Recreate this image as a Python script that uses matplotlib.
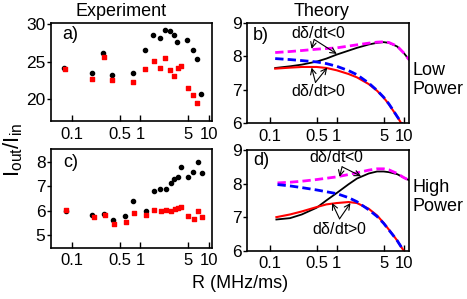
import matplotlib
matplotlib.use("Agg")
import matplotlib.pyplot as plt

plt.rcParams['font.family'] = ['Liberation Sans', 'DejaVu Sans']
plt.rcParams['mathtext.fontset'] = 'custom'
plt.rcParams['mathtext.rm'] = 'Liberation Sans'
plt.rcParams['mathtext.it'] = 'Liberation Sans'

# experiment, low power (panel a)
a_black_x = [0.078, 0.20, 0.29, 0.39, 0.79, 1.15, 1.53, 1.91, 2.28, 2.68, 3.06, 3.45, 4.8, 5.78, 6.67, 7.69]
a_black_y = [24.2, 23.4, 26.2, 23.2, 23.4, 26.5, 28.6, 28.2, 29.3, 29.1, 28.6, 27.6, 27.9, 26.6, 25.3, 20.6]
a_red_x = [0.08, 0.20, 0.30, 0.39, 0.79, 1.18, 1.57, 1.93, 2.30, 2.71, 3.09, 3.49, 3.85, 4.85, 5.84, 6.73]
a_red_y = [24.0, 22.7, 25.6, 22.5, 22.2, 24.0, 25.1, 24.1, 25.5, 23.9, 23.0, 24.2, 24.4, 21.4, 20.5, 19.4]

# experiment, high power (panel c)
c_black_x = [0.083, 0.20, 0.30, 0.40, 0.60, 0.79, 1.19, 1.57, 1.95, 2.35, 2.74, 3.13, 3.56, 3.89, 4.9, 5.9, 6.8, 7.85]
c_black_y = [6.01, 5.82, 5.89, 5.62, 5.77, 6.38, 6.01, 6.82, 6.89, 6.90, 7.15, 7.28, 7.36, 7.80, 7.38, 7.57, 7.98, 7.54]
c_red_x = [0.084, 0.21, 0.31, 0.41, 0.61, 0.81, 1.22, 1.60, 1.97, 2.38, 2.77, 3.16, 3.56, 3.94, 4.96, 5.98, 6.88, 7.94]
c_red_y = [6.03, 5.74, 5.81, 5.47, 5.54, 5.92, 5.84, 6.05, 6.00, 6.04, 6.01, 6.07, 6.10, 6.15, 5.77, 5.66, 6.01, 5.75]

# theory, low power (panel b)
b_mag_x = [0.12, 0.2, 0.3, 0.5, 1, 2, 3, 4, 5, 6, 8, 10, 12]
b_mag_y = [8.11, 8.14, 8.17, 8.21, 8.25, 8.34, 8.39, 8.42, 8.43, 8.41, 8.3, 8.1, 7.9]
b_blk_x = [0.12, 0.2, 0.3, 0.5, 0.7, 1, 2, 3, 4, 5, 6, 8, 10, 12]
b_blk_y = [7.65, 7.7, 7.75, 7.84, 7.93, 8.05, 8.25, 8.35, 8.4, 8.42, 8.4, 8.29, 8.1, 7.9]
b_blu_x = [0.12, 0.2, 0.3, 0.5, 0.7, 1, 1.5, 2, 3, 4, 5, 6, 7, 8, 9, 10]
b_blu_y = [7.93, 7.9, 7.87, 7.83, 7.78, 7.7, 7.57, 7.45, 7.2, 6.98, 6.78, 6.58, 6.38, 6.2, 6.05, 5.9]
b_red_x = [0.12, 0.2, 0.3, 0.5, 0.7, 1, 1.5, 2, 3, 4, 5, 6, 7, 8, 9, 10]
b_red_y = [7.63, 7.66, 7.68, 7.68, 7.65, 7.58, 7.47, 7.37, 7.17, 6.97, 6.77, 6.57, 6.37, 6.2, 6.03, 5.88]

# theory, high power (panel d)
d_mag_x = [0.13, 0.2, 0.3, 0.5, 1, 2, 3, 4, 5, 6, 8, 10, 12]
d_mag_y = [8.02, 8.04, 8.07, 8.12, 8.2, 8.32, 8.4, 8.44, 8.44, 8.41, 8.3, 8.18, 8.1]
d_blk_x = [0.125, 0.2, 0.3, 0.5, 0.7, 1, 1.5, 2, 3, 4, 5, 6, 8, 10, 12]
d_blk_y = [6.93, 6.97, 7.08, 7.28, 7.5, 7.72, 7.98, 8.15, 8.3, 8.36, 8.36, 8.34, 8.28, 8.18, 8.1]
d_blu_x = [0.13, 0.2, 0.3, 0.5, 1, 1.5, 2, 3, 4, 5, 6, 7, 8, 9, 10]
d_blu_y = [7.97, 7.93, 7.88, 7.81, 7.7, 7.58, 7.46, 7.22, 7.02, 6.82, 6.62, 6.45, 6.3, 6.14, 6.0]
d_red_x = [0.125, 0.2, 0.3, 0.5, 0.7, 1, 1.5, 2, 3, 4, 5, 6, 7, 8, 9, 10]
d_red_y = [7.0, 7.08, 7.17, 7.3, 7.38, 7.42, 7.45, 7.42, 7.25, 7.05, 6.83, 6.63, 6.46, 6.3, 6.14, 6.0]

xticks = [0.1, 0.5, 1, 5, 10]
xticklabels = ['0.1', '0.5', '1', '5', '10']

fig = plt.figure(figsize=(4.67, 2.99), dpi=100)
ax_a = fig.add_axes([0.1092, 0.5953, 0.3448, 0.3278])
ax_c = fig.add_axes([0.1092, 0.1716, 0.3448, 0.329])
ax_b = fig.add_axes([0.5296, 0.5876, 0.3462, 0.3365])
ax_d = fig.add_axes([0.5296, 0.1615, 0.3462, 0.3368])


def style(ax, xlim, ylim, yticks, label, lx, ly):
    ax.set_xscale('log')
    ax.set_xlim(*xlim)
    ax.set_ylim(*ylim)
    ax.set_xticks(xticks)
    ax.set_xticklabels(xticklabels)
    ax.xaxis.set_minor_locator(matplotlib.ticker.NullLocator())
    ax.set_yticks(yticks)
    ax.tick_params(axis='x', direction='in', length=4, width=1, labelsize=12, pad=4)
    ax.tick_params(axis='y', direction='out', length=3, width=1, labelsize=12.5, pad=1)
    for s in ax.spines.values():
        s.set_linewidth(1.2)
    ax.text(lx, ly, label, transform=ax.transAxes, fontsize=13, ha='center', va='center')


ax_a.scatter(a_black_x, a_black_y, s=9, color='black', marker='o', zorder=3)
ax_a.scatter(a_red_x, a_red_y, s=8, color='red', marker='s', zorder=3)
style(ax_a, (0.05, 11), (17, 30.2), [20, 25, 30], 'a)', 0.12, 0.878)

ax_c.scatter(c_black_x, c_black_y, s=9, color='black', marker='o', zorder=3)
ax_c.scatter(c_red_x, c_red_y, s=8, color='red', marker='s', zorder=3)
style(ax_c, (0.05, 11), (4.5, 8.5), [5, 6, 7, 8], 'c)', 0.12, 0.87)

for ax, mx, my, kx, ky, bx, by, rx, ry in [
        (ax_b, b_mag_x, b_mag_y, b_blk_x, b_blk_y, b_blu_x, b_blu_y, b_red_x, b_red_y),
        (ax_d, d_mag_x, d_mag_y, d_blk_x, d_blk_y, d_blu_x, d_blu_y, d_red_x, d_red_y)]:
    ax.plot(kx, ky, color='black', lw=1.3)
    ax.plot(rx, ry, color='red', lw=1.5)
    ax.plot(mx, my, color='magenta', lw=2, ls=(0, (3, 1.5)))
    ax.plot(bx, by, color='blue', lw=2, ls=(0, (3, 1.5)))

style(ax_b, (0.046, 12), (6, 9), [6, 7, 8, 9], 'b)', 0.085, 0.873)
style(ax_d, (0.046, 12), (6, 9), [6, 7, 8, 9], 'd)', 0.085, 0.9)

arr = dict(arrowstyle='->', color='black', lw=0.8, shrinkA=0, shrinkB=0)
# panel b annotations
ax_b.text(0.53, 8.69, r'd$\delta$/dt<0', fontsize=11.5, ha='center', va='center')
ax_b.annotate('', xy=(0.42, 8.22), xytext=(0.46, 8.5), arrowprops=arr)
ax_b.annotate('', xy=(1.0, 8.07), xytext=(0.46, 8.5), arrowprops=arr)
ax_b.text(0.53, 6.97, r'd$\delta$/dt>0', fontsize=11.5, ha='center', va='center')
ax_b.annotate('', xy=(0.42, 7.66), xytext=(0.48, 7.22), arrowprops=arr)
ax_b.annotate('', xy=(0.72, 7.66), xytext=(0.48, 7.22), arrowprops=arr)
# panel d annotations
ax_d.text(1.0, 8.79, r'd$\delta$/dt<0', fontsize=11.5, ha='center', va='center')
ax_d.annotate('', xy=(1.1, 8.2), xytext=(1.2, 8.5), arrowprops=arr)
ax_d.annotate('', xy=(2.3, 8.22), xytext=(1.2, 8.5), arrowprops=arr)
ax_d.text(1.1, 6.66, r'd$\delta$/dt>0', fontsize=11.5, ha='center', va='center')
ax_d.annotate('', xy=(0.85, 7.42), xytext=(1.1, 6.95), arrowprops=arr)
ax_d.annotate('', xy=(1.6, 7.42), xytext=(1.1, 6.95), arrowprops=arr)

fig.text(413 / 467, 1 - 80 / 299, 'Low\nPower', fontsize=13, ha='left', va='center', linespacing=1.1)
fig.text(413 / 467, 1 - 197 / 299, 'High\nPower', fontsize=13, ha='left', va='center', linespacing=1.1)
fig.text(121 / 467, 1 - 12 / 299, 'Experiment', fontsize=13, ha='center', va='center')
fig.text(322 / 467, 1 - 12 / 299, 'Theory', fontsize=13, ha='center', va='center')
fig.text(13 / 467, 1 - 150 / 299, r'I$_{\rm out}$/I$_{\rm in}$', fontsize=16, ha='center', va='center', rotation=90)
fig.text(240 / 467, 1 - 283 / 299, 'R (MHz/ms)', fontsize=13, ha='center', va='center')

fig.savefig('out.png', dpi=100)
